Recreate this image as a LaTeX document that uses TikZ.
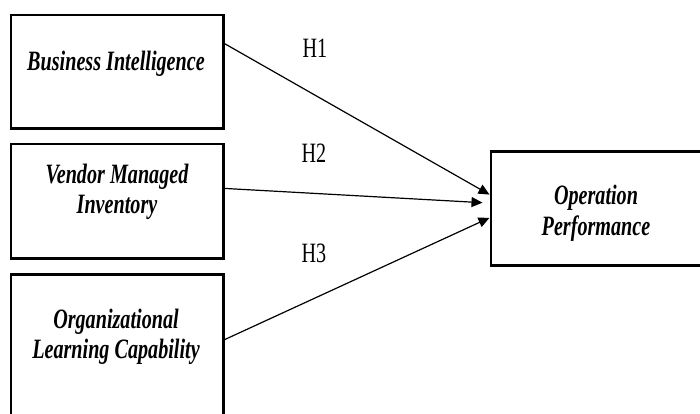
\documentclass[tikz,border=0pt]{standalone}
\usepackage{fontspec}
\setmainfont{Liberation Serif}
\newfontfamily\boxfont[FakeStretch=0.72]{Liberation Serif}
\usetikzlibrary{arrows.meta,calc}
\begin{document}
\begin{tikzpicture}[x=1pt,y=-1pt,
  box/.style={draw, line width=2.6pt, rectangle, inner sep=0pt},
  lbl/.style={font=\boxfont\bfseries\itshape\fontsize{28}{30}\selectfont, anchor=base, inner sep=0pt},
  hyp/.style={font=\boxfont\fontsize{28}{30}\selectfont, anchor=base, inner sep=0pt},
  link/.style={line width=1.2pt, -{Triangle[length=11pt,width=10pt]}}]
\useasboundingbox (0,0) rectangle (700,414);
\clip (0,0) rectangle (700,414);
% boxes
\node[box, minimum width=212.7pt, minimum height=113.7pt] (bi) at (117.2,71.7) {};
\node[box, minimum width=212.7pt, minimum height=114.3pt] (vmi) at (117.2,201.3) {};
\node[box, minimum width=212.7pt, minimum height=156pt] (olc) at (117.2,352.2) {};
\node[box, minimum width=219.2pt, minimum height=113.4pt] (op) at (600.4,208.5) {};
% texts
\node[lbl] (t1) at (116,71) {Business Intelligence};
\node[lbl] (t2a) at (117,183) {Vendor Managed};
\node[lbl] (t2b) at (117,213) {Inventory};
\node[lbl] (t3a) at (116,328) {Organizational};
\node[lbl] (t3b) at (116,358) {Learning Capability};
\node[lbl] (t4a) at (596,204) {Operation};
\node[lbl] (t4b) at (596,235) {Performance};
% connector ends
\coordinate (s1) at ($(bi.north east)!0.26!(bi.south east)$);
\coordinate (s2) at ($(vmi.north east)!0.39!(vmi.south east)$);
\coordinate (s3) at ($(olc.north east)!0.42!(olc.south east)$);
\coordinate (e1) at ($(op.north west)!0.38!(op.south west)$);
\coordinate (e2) at ($(op.north west)!0.45!(op.south west) + (-7,0)$);
\coordinate (e3) at ($(op.north west)!0.58!(op.south west)$);
\draw[link] (s1) -- (e1);
\draw[link] (s2) -- (e2);
\draw[link] (s3) -- (e3);
% hypothesis labels
\node[hyp] (h1) at (315,58) {H1};
\node[hyp] (h2) at (314,162) {H2};
\node[hyp] (h3) at (314,262) {H3};
\end{tikzpicture}
\end{document}
